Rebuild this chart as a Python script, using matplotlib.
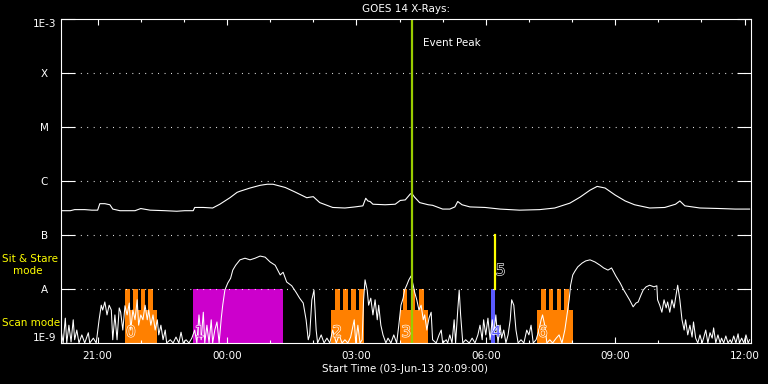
import numpy as np
import matplotlib
matplotlib.use("Agg")
import matplotlib.pyplot as plt
import matplotlib.patheffects as pe

# time in minutes after start (03-Jun-13 20:09:00), flux as log10(W/m^2)
long_t = [0, 13, 19, 33, 43, 51, 54, 61, 68, 72, 82, 103, 111, 124, 145, 161, 172, 184, 186, 198,
          211, 221, 235, 245, 249, 263, 277, 287, 295, 312, 325, 342, 346, 351, 360, 378, 395, 409,
          420, 424, 427, 430, 434, 451, 465, 472, 479, 486, 488, 492, 499, 511, 517, 531, 541, 548,
          552, 558, 569, 590, 611, 638, 666, 687, 708, 722, 736, 746, 757, 771, 785, 798, 819, 840,
          855, 861, 868, 889, 917, 938, 958]
long_log = [-6.55, -6.55, -6.53, -6.53, -6.54, -6.54, -6.42, -6.42, -6.44, -6.52, -6.55, -6.55,
            -6.51, -6.54, -6.55, -6.56, -6.55, -6.55, -6.49, -6.49, -6.50, -6.43, -6.31, -6.21,
            -6.19, -6.13, -6.08, -6.06, -6.06, -6.12, -6.20, -6.31, -6.30, -6.29, -6.40, -6.49,
            -6.50, -6.48, -6.46, -6.32, -6.37, -6.38, -6.43, -6.44, -6.43, -6.36, -6.35, -6.24,
            -6.23, -6.30, -6.40, -6.44, -6.45, -6.52, -6.52, -6.48, -6.38, -6.44, -6.48, -6.49,
            -6.52, -6.54, -6.53, -6.50, -6.41, -6.30, -6.17, -6.10, -6.13, -6.26, -6.37, -6.44,
            -6.50, -6.49, -6.43, -6.37, -6.46, -6.50, -6.51, -6.52, -6.52]

short_t = [0, 3, 6, 8, 11, 14, 17, 19, 22, 25, 29, 33, 38, 40, 45, 49, 53, 56, 58, 61, 64, 67, 70,
           72, 75, 78, 81, 83, 86, 89, 92, 95, 97, 100, 103, 106, 108, 111, 114, 117, 120, 122,
           125, 128, 131, 134, 136, 139, 142, 145, 147, 152, 156, 160, 164, 167, 170, 174, 178,
           182, 186, 189, 192, 195, 198, 200, 203, 206, 209, 211, 214, 217, 220, 223, 225, 228,
           232, 236, 239, 243, 249, 256, 263, 270, 277, 284, 291, 298, 305, 309, 314, 321, 327,
           332, 337, 341, 344, 346, 349, 352, 355, 357, 362, 366, 370, 374, 378, 383, 387, 391,
           395, 399, 403, 408, 410, 413, 416, 419, 421, 423, 426, 428, 431, 434, 437, 440, 442,
           445, 448, 452, 455, 459, 463, 467, 470, 473, 476, 478, 481, 484, 487, 490, 492, 495,
           498, 501, 504, 506, 509, 512, 515, 517, 522, 526, 529, 531, 536, 538, 541, 544, 547,
           549, 552, 554, 556, 559, 563, 568, 572, 576, 580, 583, 586, 588, 591, 594, 597, 600,
           602, 605, 608, 611, 613, 616, 619, 622, 625, 627, 630, 633, 636, 640, 644, 648, 651,
           654, 657, 661, 665, 668, 670, 673, 676, 680, 684, 689, 693, 697, 701, 704, 707, 709,
           712, 715, 719, 725, 730, 736, 743, 750, 755, 761, 766, 772, 778, 783, 787, 791, 796,
           800, 803, 807, 810, 814, 819, 825, 829, 830, 833, 836, 839, 842, 844, 847, 850, 853,
           855, 858, 861, 864, 867, 869, 872, 875, 878, 880, 883, 886, 889, 892, 894, 897, 900,
           903, 906, 908, 911, 914, 917, 919, 922, 925, 928, 931, 933, 936, 939, 942, 944, 947,
           950, 953, 956, 958]
short_log = [-8.76, -9.0, -8.54, -9.0, -8.67, -8.98, -8.57, -8.94, -8.76, -9.0, -8.85, -9.0, -8.81,
             -9.0, -8.91, -9.0, -8.57, -8.30, -8.39, -8.24, -8.48, -8.30, -8.39, -8.94, -8.48,
             -8.94, -8.35, -8.43, -8.76, -8.31, -8.48, -8.26, -8.76, -8.39, -8.57, -8.20, -8.67,
             -8.48, -8.57, -8.30, -8.57, -8.39, -8.67, -8.48, -8.76, -8.57, -8.85, -8.67, -8.94,
             -8.76, -9.0, -8.94, -9.0, -8.89, -9.0, -8.80, -9.0, -8.94, -9.0, -8.91, -8.76, -9.0,
             -8.48, -8.94, -8.43, -9.0, -8.67, -9.0, -8.57, -9.0, -8.76, -8.61, -9.0, -8.54, -8.30,
             -8.02, -7.89, -7.80, -7.65, -7.56, -7.46, -7.43, -7.46, -7.43, -7.39, -7.41, -7.50,
             -7.56, -7.74, -7.69, -7.87, -7.94, -8.06, -8.17, -8.26, -8.57, -8.94, -8.85, -8.20,
             -8.02, -8.76, -9.0, -8.85, -9.0, -8.91, -9.0, -8.76, -9.0, -8.85, -9.0, -8.94, -9.0,
             -8.89, -8.57, -9.0, -8.67, -9.0, -8.94, -8.20, -7.83, -8.02, -8.30, -8.17, -8.48,
             -8.20, -8.57, -8.30, -8.67, -8.85, -9.0, -8.91, -9.0, -8.85, -9.0, -8.67, -8.30, -8.17,
             -8.02, -7.93, -7.83, -7.76, -7.93, -8.06, -8.20, -8.39, -8.30, -8.57, -8.48, -8.76,
             -8.54, -8.43, -8.94, -9.0, -8.85, -8.76, -9.0, -8.94, -9.0, -8.85, -9.0, -8.57, -9.0,
             -8.39, -8.02, -8.48, -9.0, -8.94, -9.0, -8.91, -9.0, -8.85, -8.67, -8.94, -8.57, -8.85,
             -8.54, -8.94, -8.57, -8.85, -8.48, -9.0, -8.67, -8.91, -8.76, -9.0, -8.85, -8.57,
             -8.20, -8.30, -8.76, -9.0, -8.94, -9.0, -8.76, -8.85, -8.67, -9.0, -8.94, -8.76, -8.57,
             -8.48, -8.67, -9.0, -8.94, -9.0, -8.91, -8.85, -9.0, -8.76, -8.48, -8.20, -7.93, -7.74,
             -7.67, -7.59, -7.52, -7.48, -7.46, -7.50, -7.56, -7.61, -7.65, -7.61, -7.76, -7.89,
             -8.02, -8.11, -8.20, -8.33, -8.26, -8.24, -8.11, -8.02, -7.96, -7.93, -7.96, -7.94,
             -8.20, -8.30, -8.43, -8.20, -8.35, -8.24, -8.43, -8.20, -8.35, -8.17, -7.93, -8.20,
             -8.57, -8.76, -8.57, -8.85, -8.67, -8.89, -8.61, -8.91, -9.0, -8.85, -9.0, -8.91, -8.76,
             -9.0, -8.81, -8.91, -8.72, -9.0, -8.85, -9.0, -8.91, -9.0, -8.87, -9.0, -8.94, -9.0,
             -8.87, -9.0, -8.83, -9.0, -8.91, -9.0, -8.85, -9.0, -8.94]

# scan-mode rasters (orange): base extent and the tall segments
scan_start = [89, 376, 472, 662]
scan_end = [134, 421, 510, 712]
scan_prongs = [
    [(89, 96), (100, 107), (111, 117), (121, 128)],
    [(381, 388), (392, 399), (403, 410), (415, 421)],
    [(476, 482), (487, 493), (498, 505)],
    [(668, 675), (679, 685), (690, 696), (700, 707)],
]
scan_ids = ["0", "2", "3", "6"]
sit_start, sit_end = 184, 309       # magenta raster "1"
blue_start, blue_end = 598, 604     # blue raster "4"
stare_time = 604                    # yellow sit & stare "5"
event_peak = 489

base_level = 4.1e-9
top_level = 1e-8
floor = 1e-9

x_ticks = [51, 231, 411, 591, 771, 951]
x_labels = ["21:00", "00:00", "03:00", "06:00", "09:00", "12:00"]
x_minor = [111, 171, 291, 351, 471, 531, 651, 711, 831, 891]
y_ticks = [1e-9, 1e-8, 1e-7, 1e-6, 1e-5, 1e-4, 1e-3]
y_labels = ["1E-9", "A", "B", "C", "M", "X", "1E-3"]

ORANGE = "#ff8000"
MAGENTA = "#cc00cc"
BLUE = "#5a5aff"
EVENT = "#99cc00"

plt.rcParams["font.family"] = "DejaVu Sans"
plt.rcParams["font.size"] = 7.5

fig = plt.figure(figsize=(7.68, 3.84), dpi=100, facecolor="black")
ax = fig.add_axes([61 / 768, 41 / 384, 690 / 768, 324 / 384])
ax.set_facecolor("black")
ax.set_yscale("log")
ax.set_xlim(0, 960)
ax.set_ylim(1e-9, 1e-3)

# rasters
for s, e, prongs in zip(scan_start, scan_end, scan_prongs):
    ax.bar(s, base_level - floor, width=e - s, bottom=floor, align="edge", color=ORANGE, lw=0)
    for ps, pe_ in prongs:
        ax.bar(ps, top_level - floor, width=pe_ - ps, bottom=floor, align="edge", color=ORANGE, lw=0)
ax.bar(sit_start, top_level - floor, width=sit_end - sit_start, bottom=floor, align="edge",
       color=MAGENTA, lw=0)
ax.bar(blue_start, top_level - floor, width=blue_end - blue_start, bottom=floor, align="edge",
       color=BLUE, lw=0)
ax.plot([stare_time, stare_time], [1e-8, 1e-7], color="yellow", lw=1.6)

# dotted level lines
for lv in y_ticks[1:-1]:
    ax.axhline(lv, color="white", lw=0.8, dashes=(0.8, 5))

# flux curves
ax.plot(long_t, 10 ** np.array(long_log), color="white", lw=0.8)
ax.plot(short_t, 10 ** np.array(short_log), color="white", lw=0.75)

ax.axvline(event_peak, color=EVENT, lw=1.6)

# raster numbers (hollow digits)
digit_fx = [pe.withStroke(linewidth=0.9, foreground="white")]
for s, lab in zip(scan_start, scan_ids):
    ax.text(s + 1.5, 1.15e-9, lab, color=ORANGE, fontsize=11, ha="left", va="bottom",
            path_effects=digit_fx)
ax.text(sit_start + 2, 1.15e-9, "1", color=MAGENTA, fontsize=11, ha="left", va="bottom",
        path_effects=digit_fx)
ax.text(blue_start + 1, 1.15e-9, "4", color=BLUE, fontsize=11, ha="left", va="bottom",
        path_effects=digit_fx)
ax.text(stare_time + 1, 1.6e-8, "5", color="black", fontsize=11, ha="left", va="bottom",
        path_effects=digit_fx)

# axes styling
for sp in ax.spines.values():
    sp.set_color("white")
    sp.set_linewidth(0.8)
ax.yaxis.set_minor_locator(matplotlib.ticker.NullLocator())
ax.set_yticks(y_ticks)
ax.set_yticklabels(y_labels)
for lbl in ax.get_yticklabels():
    lbl.set_horizontalalignment("center")
ax.get_yticklabels()[-1].set_verticalalignment("top")
ax.get_yticklabels()[0].set_verticalalignment("bottom")
ax.tick_params(axis="y", which="major", direction="in", length=10, width=0.8, colors="white",
               left=True, right=True, pad=12, labelsize=7.5)
ax.set_xticks(x_ticks)
ax.set_xticklabels(x_labels)
ax.set_xticks(x_minor, minor=True)
ax.tick_params(axis="x", which="major", direction="in", length=4, width=0.8, colors="white",
               top=True, bottom=True, pad=5.5, labelsize=7.5)
ax.tick_params(axis="x", which="minor", direction="in", length=2.4, width=0.8, colors="white",
               top=True, bottom=True)

fig.text(406 / 768, 1 - 9 / 384, "GOES 14 X-Rays:", color="white", ha="center", va="center")
fig.text(405 / 768, 1 - 368.5 / 384, "Start Time (03-Jun-13 20:09:00)", color="white",
         ha="center", va="center")
fig.text(423 / 768, 1 - 43 / 384, "Event Peak", color="white", ha="left", va="center")
fig.text(2 / 768, 1 - 259 / 384, "Sit & Stare", color="yellow", ha="left", va="center")
fig.text(13 / 768, 1 - 271 / 384, "mode", color="yellow", ha="left", va="center")
fig.text(2 / 768, 1 - 323.5 / 384, "Scan mode", color="yellow", ha="left", va="center")

fig.savefig("out.png", dpi=100, facecolor="black")
